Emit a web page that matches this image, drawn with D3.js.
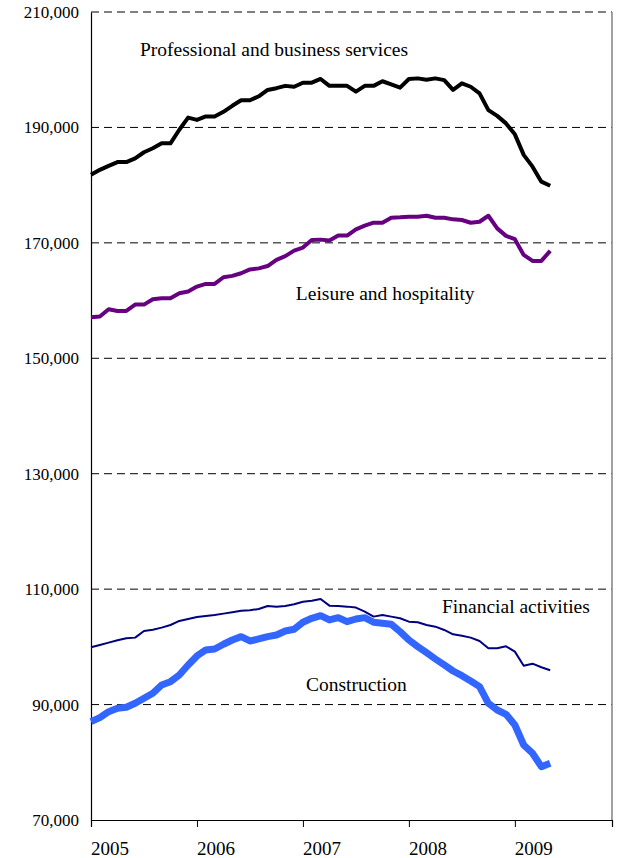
<!DOCTYPE html>
<html>
<head>
<meta charset="utf-8">
<script src="https://cdn.jsdelivr.net/npm/d3@7"></script>
<style>
  body { margin: 0; background: #fff; }
  svg text { font-family: "Liberation Serif", "Times New Roman", serif; fill: #000; }
</style>
</head>
<body>
<div id="chart"></div>
<script>
// monthly employment, Jan 2005 .. May 2009
const years = ["2005", "2006", "2007", "2008", "2009"];
const yTicks = [70000, 90000, 110000, 130000, 150000, 170000, 190000, 210000];

const professional = [
  181800, 182650, 183350, 184000, 184000, 184650, 185700, 186400, 187250, 187250,
  189600, 191700, 191300, 191900, 191900, 192700, 193750, 194700, 194700, 195400,
  196500, 196800, 197200, 197050, 197750, 197750, 198400, 197200, 197200, 197200,
  196200, 197200, 197200, 198000, 197450, 196900, 198400, 198500, 198250, 198500,
  198200, 196500, 197650, 197050, 195900, 193000, 192000, 190700, 188800, 185250,
  183200, 180600, 179900
];
const leisure = [
  157100, 157250, 158500, 158200, 158200, 159300, 159300, 160240, 160410, 160410,
  161270, 161560, 162420, 162890, 162890, 164040, 164280, 164740, 165400, 165580,
  165980, 167050, 167700, 168660, 169180, 170510, 170560, 170400, 171260, 171260,
  172340, 172970, 173490, 173490, 174360, 174420, 174530, 174530, 174700, 174360,
  174360, 174070, 173960, 173490, 173660, 174700, 172510, 171210, 170630, 167910,
  166870, 166870, 168610
];
const financial = [
  99930, 100330, 100730, 101140, 101490, 101600, 102750, 102980, 103330, 103790,
  104490, 104830, 105180, 105350, 105530, 105760, 106000, 106270, 106340, 106570,
  107090, 106970, 107090, 107380, 107830, 108000, 108300, 107140, 107090, 106970,
  106800, 106100, 105240, 105530, 105240, 104950, 104370, 104260, 103790, 103500,
  102930, 102180, 101940, 101600, 101020, 99750, 99750, 100100, 99170, 96740,
  97090, 96460, 95940
];
const construction = [
  87040, 87730, 88770, 89350, 89530, 90220, 91090, 91960, 93400, 93970,
  95130, 96860, 98420, 99460, 99630, 100450, 101190, 101770, 101020, 101370,
  101770, 102060, 102750, 103050, 104260, 104950, 105410, 104660, 105060, 104370,
  104830, 105060, 104260, 104080, 103910, 102640, 101190, 100040, 98990, 97900,
  96860, 95820, 95010, 94090, 93100, 90220, 89060, 88310, 86460, 83000,
  81560, 79240, 79830
];

const series = [
  { name: "Financial activities", values: financial, color: "#000080", width: 2 },
  { name: "Construction", values: construction, color: "#3366ff", width: 7 },
  { name: "Leisure and hospitality", values: leisure, color: "#660080", width: 4 },
  { name: "Professional and business services", values: professional, color: "#000000", width: 4 }
];

// label spots (month index, value) for the series names
const labels = [
  { text: "Professional and business services", m: 5.55, v: 202380 },
  { text: "Leisure and hospitality", m: 23.2, v: 160100 },
  { text: "Financial activities", m: 39.75, v: 105870 },
  { text: "Construction", m: 24.35, v: 92350 }
];

const width = 619, height = 858;
const plotL = 91, plotR = 612, plotT = 12, plotB = 820;

const svg = d3.select("#chart").append("svg")
  .attr("width", width)
  .attr("height", height);

const x = d3.scaleLinear().domain([0, 59]).range([plotL, plotR]);
const y = d3.scaleLinear().domain([70000, 210000]).range([plotB, plotT]);

// dashed gridlines
svg.append("g")
  .selectAll("line")
  .data(yTicks.slice(1))
  .enter().append("line")
  .attr("x1", plotL).attr("x2", plotR)
  .attr("y1", d => y(d)).attr("y2", d => y(d))
  .attr("stroke", "#000")
  .attr("stroke-width", 1)
  .attr("stroke-dasharray", "8,5");

// right border
svg.append("line")
  .attr("x1", plotR).attr("x2", plotR)
  .attr("y1", plotT).attr("y2", plotB)
  .attr("stroke", "#808080").attr("stroke-width", 1.5);

// y axis
const yAxis = d3.axisLeft(y)
  .tickValues(yTicks)
  .tickSize(0)
  .tickPadding(12)
  .tickFormat(d3.format(","));
svg.append("g")
  .attr("transform", `translate(${plotL},0)`)
  .call(yAxis)
  .call(g => g.select(".domain").attr("stroke", "#000").attr("stroke-width", 1.2))
  .call(g => g.selectAll("text").attr("font-size", 17).attr("font-family", "Liberation Serif"));

// x axis, ticks at year starts
const xAxis = d3.axisBottom(x)
  .tickValues([0, 12, 24, 36, 48])
  .tickSize(7)
  .tickFormat("");
svg.append("g")
  .attr("transform", `translate(0,${plotB})`)
  .call(xAxis)
  .call(g => g.select(".domain").attr("stroke", "#000").attr("stroke-width", 1.2));

svg.append("g")
  .selectAll("text")
  .data(years)
  .enter().append("text")
  .attr("x", (d, i) => x(i * 12))
  .attr("y", 855)
  .attr("font-size", 19)
  .text(d => d);

// lines
const line = d3.line()
  .x((d, i) => x(i))
  .y(d => y(d))
  .curve(d3.curveLinear);

svg.append("g")
  .selectAll("path")
  .data(series)
  .enter().append("path")
  .attr("d", d => line(d.values))
  .attr("fill", "none")
  .attr("stroke", d => d.color)
  .attr("stroke-width", d => d.width)
  .attr("stroke-linejoin", "round");

// series names
svg.append("g")
  .selectAll("text")
  .data(labels)
  .enter().append("text")
  .attr("x", d => x(d.m))
  .attr("y", d => y(d.v))
  .attr("font-size", 19.5)
  .text(d => d.text);
</script>
</body>
</html>
